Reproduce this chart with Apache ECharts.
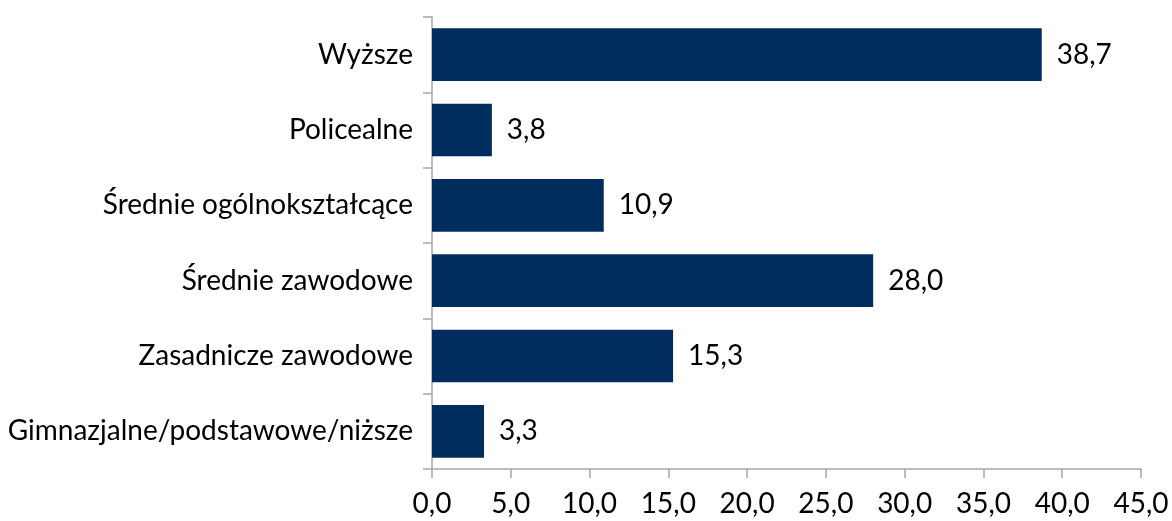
<!DOCTYPE html>
<html><head><meta charset="utf-8">
<script src="https://cdn.jsdelivr.net/npm/echarts@6/dist/echarts.min.js"></script>
<style>html,body{margin:0;padding:0;background:#fff}#c{width:1172px;height:521px}</style>
</head><body><div id="c"></div>
<script>
const categories = ["Gimnazjalne/podstawowe/niższe","Zasadnicze zawodowe","Średnie zawodowe","Średnie ogólnokształcące","Policealne","Wyższe"];
const values = [3.3, 15.3, 28.0, 10.9, 3.8, 38.7];
const xMin = 0, xMax = 45, xStep = 5;
const fmt = v => v.toFixed(1).replace('.', ',');
const FONT = 'Lato';
const chart = echarts.init(document.getElementById('c'), null, {renderer:'canvas'});
chart.setOption({
  animation:false,
  grid:{left:432, right:31, top:17, bottom:52, containLabel:false},
  xAxis:{type:'value', min:xMin, max:xMax, interval:xStep,
    axisLine:{show:true, lineStyle:{color:'#A6A6A6', width:1.5}},
    axisTick:{show:true, length:9, lineStyle:{color:'#A6A6A6', width:1.5}},
    splitLine:{show:false},
    axisLabel:{formatter:v=>fmt(v), color:'#000', fontFamily:FONT, fontSize:28, margin:21}},
  yAxis:{type:'category', data:categories,
    axisLine:{show:true, lineStyle:{color:'#A6A6A6', width:1.5}},
    axisTick:{show:true, length:9, lineStyle:{color:'#A6A6A6', width:1.5}},
    axisLabel:{color:'#000', fontFamily:FONT, fontSize:28, margin:19}},
  series:[{type:'bar', data:values, barCategoryGap:'30%',
    itemStyle:{color:'#002D5D'},
    label:{show:true, position:'right', distance:15, formatter:p=>fmt(p.value), color:'#000', fontFamily:FONT, fontSize:28}}]
});
</script></body></html>
